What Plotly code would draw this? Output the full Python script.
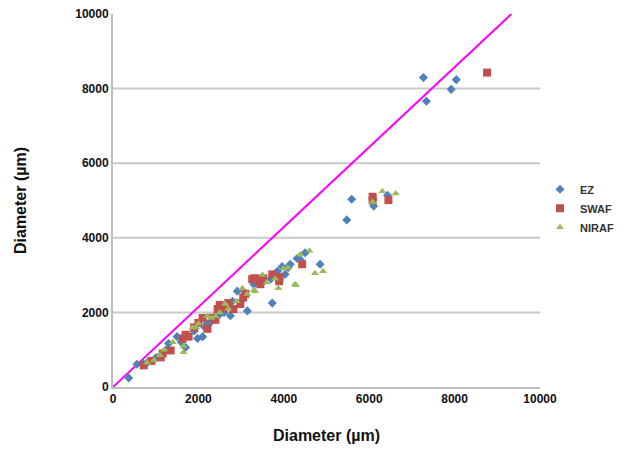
import plotly.graph_objects as go

# EZ series (x, y)
ez_x = [370, 560, 700, 800, 1000, 1300, 1250, 1700, 1980, 2100, 1900, 2150, 2300, 2500, 2750, 2600,
        2910, 3145, 3000, 3300, 3500, 3730, 3700, 3960, 4030, 4150, 4310, 4500, 4400, 4850, 3850,
        2400, 1600, 2200, 5475, 5590, 6105, 6430, 7270, 7340, 7920, 8040, 1500, 2800, 3400, 4100]
ez_y = [240, 610, 635, 650, 780, 1165, 1000, 1060, 1300, 1350, 1500, 1600, 1750, 1950, 1910, 2000,
        2570, 2040, 2300, 2750, 2800, 2250, 2900, 3230, 3020, 3290, 3445, 3600, 3400, 3290, 3100,
        1900, 1200, 1700, 4480, 5035, 4850, 5140, 8295, 7660, 7980, 8240, 1350, 2300, 2900, 3200]

# SWAF series
swaf_x = [720, 900, 1120, 1165, 1350, 1630, 1770, 1700, 2000, 2210, 2330, 2450, 2590, 2820, 2980,
          3050, 3260, 3380, 3310, 3450, 3520, 3730, 3890, 3900, 4430, 2100, 2500, 2700, 2400,
          6080, 6080, 6450, 8760, 1900, 3100]
swaf_y = [580, 700, 795, 900, 980, 1300, 1350, 1400, 1720, 1560, 1855, 2090, 2120, 2090, 2225,
          2400, 2890, 2890, 2915, 2755, 2915, 3020, 2835, 2950, 3290, 1850, 2200, 2250, 1800,
          5000, 5100, 5010, 8430, 1600, 2500]

# NIRAF series
niraf_x = [960, 1100, 1650, 1650, 1860, 1950, 2300, 2400, 2630, 2700, 3030, 2900, 3145, 3300, 3330,
           3600, 3800, 3870, 3990, 4100, 4260, 4290, 4380, 4600, 4730, 4920, 6080, 6310, 6620,
           2000, 2500, 3500, 2200, 1400, 1200, 800]
niraf_y = [715, 850, 930, 1100, 1590, 1600, 1850, 1900, 2225, 2100, 2650, 2300, 2490, 2600, 2570,
           2800, 2900, 2650, 3180, 3200, 2755, 2730, 3550, 3650, 3050, 3100, 4960, 5250, 5190,
           1700, 2000, 3000, 1900, 1200, 1000, 650]

# reference line
line_x = [0, 9330]
line_y = [0, 10000]

tick_vals = [0, 2000, 4000, 6000, 8000, 10000]
grid_vals = [2000, 4000, 6000, 8000]

fig = go.Figure()
fig.add_trace(go.Scatter(x=line_x, y=line_y, mode="lines", line=dict(color="#FF00FF", width=2),
                         showlegend=False, hoverinfo="skip"))
fig.add_trace(go.Scatter(x=ez_x, y=ez_y, mode="markers", name="<b>EZ</b>",
                         marker=dict(symbol="diamond", size=7, color="#4F81BD")))
fig.add_trace(go.Scatter(x=swaf_x, y=swaf_y, mode="markers", name="<b>SWAF</b>",
                         marker=dict(symbol="square", size=8, color="#C0504D")))
fig.add_trace(go.Scatter(x=niraf_x, y=niraf_y, mode="markers", name="<b>NIRAF</b>",
                         marker=dict(symbol="triangle-up", size=7, color="#9BBB59")))

for g in grid_vals:
    fig.add_shape(type="line", xref="x", yref="y", x0=0, x1=10000, y0=g, y1=g,
                  line=dict(color="#C8C8C8", width=2), layer="below")

font_family = "Liberation Sans, Arial, sans-serif"
fig.update_layout(
    width=631, height=450,
    margin=dict(l=105, r=99, t=6, b=71),
    paper_bgcolor="white", plot_bgcolor="white",
    font=dict(family=font_family, color="#000000"),
    showlegend=True,
    legend=dict(x=1.0, y=0.569, xanchor="left", yanchor="top",
                font=dict(size=11, family=font_family, color="#333"),
                tracegroupgap=0, itemwidth=30),
    xaxis=dict(range=[0, 10000], tickvals=tick_vals, ticktext=["<b>%d</b>" % v for v in tick_vals],
               showgrid=False, zeroline=False, showline=True, linecolor="#BEBEBE", linewidth=2,
               ticks="", tickfont=dict(size=12, color="#111"), automargin=False,
               ticklabeloverflow="allow",
               title=dict(text="<b>Diameter (µm)</b>", font=dict(size=16, color="#111"), standoff=24)),
    yaxis=dict(range=[0, 10000], tickvals=tick_vals, ticktext=["<b>%d</b>" % v for v in tick_vals],
               showgrid=False, zeroline=False, showline=True, linecolor="#BEBEBE", linewidth=2,
               ticks="", tickfont=dict(size=12, color="#111"), automargin=False,
               ticklabeloverflow="allow",
               title=dict(text="<b>Diameter (µm)</b>", font=dict(size=16, color="#111"), standoff=45)),
)

fig.write_html("out.html")
